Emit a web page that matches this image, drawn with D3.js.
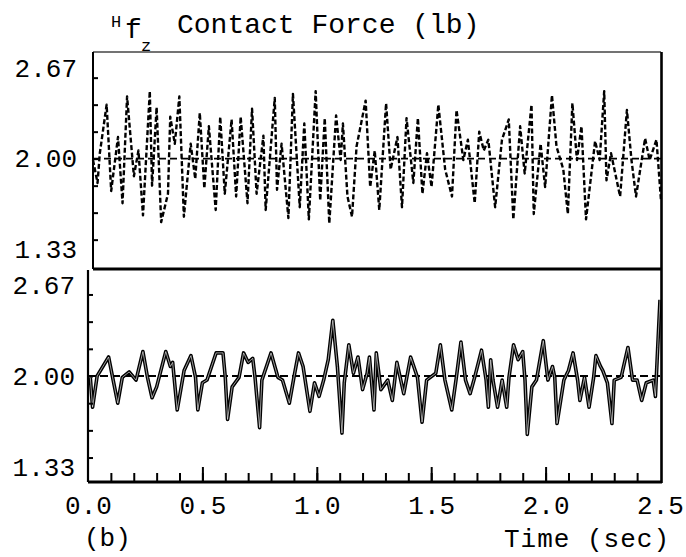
<!DOCTYPE html>
<html>
<head>
<meta charset="utf-8">
<script src="https://cdn.jsdelivr.net/npm/d3@7"></script>
<style>
  html, body { margin: 0; padding: 0; background: #fff; }
  svg { display: block; }
  text { font-family: "Liberation Mono", "Courier New", monospace; fill: #000; }
</style>
</head>
<body>
<svg id="chart" width="686" height="557"></svg>
<script>
// ---- data ----
const timeTop = [0.00,0.02,0.03,0.06,0.08,0.11,0.13,0.15,0.18,0.20,0.22,0.25,0.26,0.28,0.30,0.33,0.34,0.36,0.38,0.40,0.43,0.45,0.47,0.49,0.51,0.54,0.56,0.58,0.61,0.63,0.65,0.68,0.70,0.72,0.75,0.76,0.80,0.81,0.83,0.86,0.88,0.91,0.93,0.95,0.98,1.00,1.02,1.04,1.07,1.09,1.10,1.12,1.14,1.16,1.20,1.22,1.24,1.26,1.29,1.31,1.34,1.36,1.38,1.41,1.43,1.45,1.47,1.49,1.52,1.55,1.58,1.60,1.63,1.65,1.68,1.70,1.72,1.74,1.77,1.80,1.83,1.85,1.88,1.90,1.93,1.94,1.97,1.99,2.02,2.04,2.07,2.09,2.11,2.13,2.15,2.17,2.21,2.23,2.25,2.26,2.28,2.32,2.35,2.37,2.39,2.43,2.45,2.48,2.50];
const forceTop = [1.99,1.82,2.04,2.40,1.76,2.16,1.67,2.46,1.87,2.06,1.58,2.50,1.80,2.38,1.53,1.74,2.31,2.11,2.46,1.57,2.11,1.85,2.34,1.78,2.24,1.62,2.31,1.74,2.29,1.72,2.31,1.67,2.37,1.74,2.17,1.62,2.45,1.77,2.11,1.56,2.48,1.64,2.26,1.55,2.50,1.69,2.30,1.52,2.32,1.99,2.26,1.72,1.57,2.09,2.43,1.79,2.06,1.62,2.41,1.92,2.16,1.64,2.30,1.82,2.30,1.74,2.04,1.79,2.40,1.92,1.72,2.36,1.99,2.14,1.67,2.20,2.06,2.14,1.64,2.14,2.29,1.55,2.24,1.89,2.40,1.59,2.11,1.79,2.47,2.09,1.92,1.59,2.41,1.99,2.24,1.55,2.13,1.99,2.50,1.84,2.04,1.72,2.36,1.99,1.72,2.15,1.99,2.14,1.69];

const timeBot = [0.01,0.02,0.04,0.09,0.11,0.13,0.15,0.18,0.21,0.24,0.26,0.28,0.30,0.34,0.36,0.37,0.39,0.42,0.45,0.47,0.48,0.50,0.52,0.56,0.59,0.60,0.61,0.63,0.66,0.68,0.70,0.72,0.73,0.75,0.76,0.80,0.83,0.85,0.88,0.90,0.92,0.94,0.97,0.99,1.01,1.03,1.05,1.07,1.09,1.11,1.12,1.14,1.16,1.18,1.20,1.22,1.23,1.25,1.26,1.28,1.31,1.33,1.35,1.38,1.41,1.44,1.46,1.48,1.52,1.54,1.56,1.59,1.61,1.63,1.65,1.67,1.69,1.72,1.74,1.75,1.76,1.77,1.79,1.81,1.83,1.84,1.86,1.88,1.90,1.91,1.92,1.94,1.96,1.99,2.01,2.03,2.04,2.05,2.08,2.10,2.12,2.14,2.15,2.17,2.19,2.21,2.22,2.24,2.25,2.27,2.29,2.30,2.33,2.36,2.38,2.40,2.42,2.44,2.47,2.48,2.49,2.50];
const forceBot = [1.99,1.77,2.00,2.14,1.97,1.80,1.99,2.03,1.97,2.18,1.99,1.84,1.92,2.18,2.07,2.10,1.75,2.04,2.15,1.99,1.75,1.95,1.97,2.17,2.17,1.99,1.68,1.92,1.99,2.17,2.10,2.13,1.99,1.62,1.97,2.17,1.99,1.97,1.80,1.99,2.17,2.07,1.74,1.95,1.85,1.97,2.12,2.41,2.07,1.58,1.95,2.23,2.02,2.14,1.90,2.02,2.14,1.75,2.17,1.90,1.97,1.82,2.10,1.87,2.14,1.99,1.66,1.97,2.02,2.23,1.97,1.75,1.99,2.25,1.97,1.87,1.99,2.19,1.97,1.77,2.12,1.97,1.77,1.97,1.77,1.99,2.23,2.12,2.18,1.97,1.57,1.92,1.97,2.26,1.97,2.07,1.99,1.65,1.97,2.04,2.17,1.97,1.82,1.99,1.77,1.99,2.15,2.07,2.04,1.95,1.65,1.97,1.99,2.21,1.97,1.97,1.82,1.95,1.97,1.85,2.21,2.56];

const desiredForce = 2.00;
const timeDomain = [0, 2.5];
const yLabelValues = [2.67, 2.00, 1.33];
const yTickValues = [1.4, 1.6, 1.8, 2.0, 2.2, 2.4, 2.6];
const xLabelValues = [0.0, 0.5, 1.0, 1.5, 2.0, 2.5];
const xMinorTicks = d3.range(1, 25).map(i => i / 10);
const xMajorTicks = [0.5, 1.0, 1.5, 2.0];

// ---- layout ----
const svg = d3.select("#chart");
const pTop = { left: 93, right: 661, top: 52, bottom: 268 };
const pBot = { left: 88, right: 661, top: 270, bottom: 482 };

const xTop = d3.scaleLinear().domain(timeDomain).range([pTop.left, pTop.right]);
const xBot = d3.scaleLinear().domain(timeDomain).range([pBot.left, pBot.right - 1]);
const yTop = d3.scaleLinear().domain([1.19, 2.79]).range([pTop.bottom, pTop.top]);
const yBot = d3.scaleLinear().domain([1.22, 2.78]).range([pBot.bottom, pBot.top]);

// ---- title ----
const title = svg.append("g");
title.append("text").attr("x", 111).attr("y", 27).attr("font-size", 17).text("H");
title.append("text").attr("x", 125).attr("y", 38).attr("font-size", 28).text("f");
title.append("text").attr("x", 141).attr("y", 51).attr("font-size", 17).text("z");
title.append("text").attr("x", 177).attr("y", 33).attr("font-size", 28).text("Contact Force (lb)");

// ---- reference (desired) lines ----
svg.append("line")
  .attr("x1", xTop(0)).attr("x2", xTop(2.5))
  .attr("y1", yTop(desiredForce)).attr("y2", yTop(desiredForce))
  .attr("stroke", "#000").attr("stroke-width", 1.6).attr("stroke-dasharray", "7,4");
svg.append("line")
  .attr("x1", xBot(0)).attr("x2", xBot(2.5))
  .attr("y1", yBot(desiredForce)).attr("y2", yBot(desiredForce))
  .attr("stroke", "#000").attr("stroke-width", 1.8).attr("stroke-dasharray", "8,4");

// ---- signals ----
const topPts = timeTop.map((t, i) => [t, forceTop[i]]);
const botPts = timeBot.map((t, i) => [t, forceBot[i]]);
const lineTop = d3.line().x(d => xTop(d[0])).y(d => yTop(d[1]));
const lineBot = d3.line().x(d => xBot(d[0])).y(d => yBot(d[1]));

svg.append("path").datum(topPts).attr("d", lineTop)
  .attr("fill", "none").attr("stroke", "#000").attr("stroke-width", 2.4)
  .attr("stroke-dasharray", "5,2.5").attr("stroke-linejoin", "round");
svg.append("path").datum(botPts).attr("d", lineBot)
  .attr("fill", "none").attr("stroke", "#000").attr("stroke-width", 3.6)
  .attr("stroke-linejoin", "round");
svg.append("path").datum(botPts).attr("d", lineBot)
  .attr("fill", "none").attr("stroke", "#fff").attr("stroke-width", 1.0)
  .attr("stroke-linejoin", "round").attr("opacity", 0.6);

// ---- frame ----
const frame = svg.append("g").attr("stroke", "#000").attr("fill", "none");
frame.append("line").attr("x1", pTop.left).attr("x2", pTop.right).attr("y1", pTop.top).attr("y2", pTop.top)
  .attr("stroke-width", 1.4).attr("stroke", "#444");
frame.append("line").attr("x1", pTop.left).attr("x2", pTop.left).attr("y1", pTop.top).attr("y2", pTop.bottom + 1)
  .attr("stroke-width", 2);
frame.append("line").attr("x1", pTop.left).attr("x2", pTop.right).attr("y1", 269).attr("y2", 269)
  .attr("stroke-width", 3);
frame.append("line").attr("x1", pBot.left).attr("x2", pBot.left).attr("y1", pBot.top).attr("y2", pBot.bottom)
  .attr("stroke-width", 2.2);
frame.append("line").attr("x1", pBot.left).attr("x2", pBot.right + 1).attr("y1", pBot.bottom).attr("y2", pBot.bottom)
  .attr("stroke-width", 3);
frame.append("line").attr("x1", pTop.right + 0.5).attr("x2", pTop.right + 0.5).attr("y1", pTop.top).attr("y2", pBot.bottom + 1)
  .attr("stroke-width", 2.6);

// ---- y ticks (inward) and labels ----
function yAxisTicks(scale, x) {
  const g = svg.append("g").attr("transform", `translate(${x},0)`)
    .call(d3.axisRight(scale).tickValues(yTickValues).tickSize(5).tickFormat(""));
  g.select(".domain").remove();
  g.selectAll("line").attr("stroke", "#000").attr("stroke-width", 2);
}
yAxisTicks(yTop, pTop.left);
yAxisTicks(yBot, pBot.left);

function yAxisLabels(scale, x) {
  const g = svg.append("g").attr("transform", `translate(${x},0)`)
    .call(d3.axisLeft(scale).tickValues(yLabelValues).tickSize(0).tickPadding(0).tickFormat(d3.format(".2f")));
  g.select(".domain").remove();
  g.selectAll("text").attr("font-size", 26).attr("font-family", "Liberation Mono").attr("fill", "#000");
}
yAxisLabels(yTop, 77);
yAxisLabels(yBot, 75);

// ---- x ticks (inward from bottom) ----
const minorG = svg.append("g").attr("transform", `translate(0,${pBot.bottom})`)
  .call(d3.axisTop(xBot).tickValues(xMinorTicks).tickSize(9).tickFormat(""));
minorG.select(".domain").remove();
minorG.selectAll("line").attr("stroke", "#000").attr("stroke-width", 2);
const majorG = svg.append("g").attr("transform", `translate(0,${pBot.bottom})`)
  .call(d3.axisTop(xBot).tickValues(xMajorTicks).tickSize(15).tickFormat(""));
majorG.select(".domain").remove();
majorG.selectAll("line").attr("stroke", "#000").attr("stroke-width", 2);

const labG = svg.append("g").attr("transform", `translate(0,${pBot.bottom})`)
  .call(d3.axisBottom(xBot).tickValues(xLabelValues).tickSize(0).tickPadding(14).tickFormat(d3.format(".1f")));
labG.select(".domain").remove();
labG.selectAll("text").attr("font-size", 26).attr("font-family", "Liberation Mono").attr("fill", "#000");

// ---- other labels ----
svg.append("text").attr("x", 84).attr("y", 546).attr("font-size", 26).text("(b)");
svg.append("text").attr("x", 670).attr("y", 547).attr("font-size", 26)
  .attr("text-anchor", "end").attr("letter-spacing", 1).text("Time (sec)");
</script>
</body>
</html>
